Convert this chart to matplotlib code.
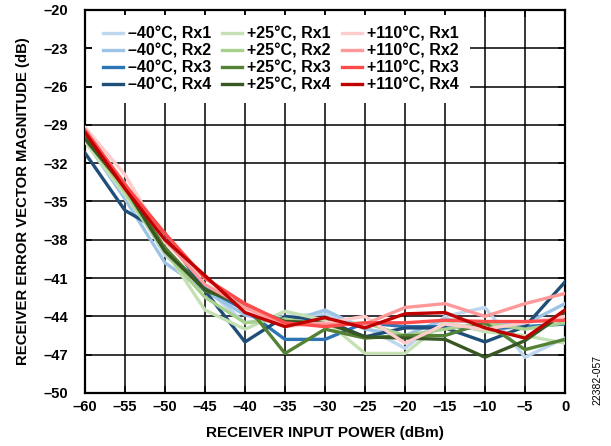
import matplotlib
matplotlib.use("Agg")
import matplotlib.pyplot as plt

plt.rcParams['font.family'] = ['Liberation Sans', 'DejaVu Sans']
plt.rcParams['font.weight'] = 'bold'

power = [-60, -55, -50, -45, -40, -35, -30, -25, -20, -15, -10, -5, 0]

labels = ["\u201340\u00b0C, Rx1", "\u201340\u00b0C, Rx2", "\u201340\u00b0C, Rx3", "\u201340\u00b0C, Rx4",
          "+25\u00b0C, Rx1", "+25\u00b0C, Rx2", "+25\u00b0C, Rx3", "+25\u00b0C, Rx4",
          "+110\u00b0C, Rx1", "+110\u00b0C, Rx2", "+110\u00b0C, Rx3", "+110\u00b0C, Rx4"]

m40_rx1 = [-29.9, -34.0, -39.2, -41.8, -44.5, -44.0, -43.8, -44.8, -46.5, -44.0, -43.3, -47.2, -45.7]
m40_rx2 = [-30.2, -34.8, -39.8, -42.0, -43.9, -44.5, -43.5, -45.0, -45.5, -44.2, -44.6, -44.6, -43.0]
m40_rx3 = [-30.0, -34.3, -38.8, -41.8, -43.5, -45.8, -45.8, -44.5, -44.8, -44.8, -45.0, -44.8, -44.6]
m40_rx4 = [-31.2, -35.7, -37.5, -42.0, -46.0, -44.0, -44.3, -45.6, -44.9, -44.9, -46.0, -44.8, -41.3]

p25_rx1 = [-30.3, -34.5, -38.8, -43.5, -45.0, -43.6, -44.3, -46.9, -46.9, -44.4, -45.2, -45.5, -46.1]
p25_rx2 = [-30.0, -34.2, -39.0, -42.5, -44.5, -44.2, -44.7, -44.5, -45.5, -45.0, -44.5, -45.0, -44.5]
p25_rx3 = [-29.9, -33.8, -38.6, -42.0, -43.0, -46.9, -45.0, -45.7, -45.5, -45.5, -44.5, -46.6, -45.8]
p25_rx4 = [-30.1, -33.9, -38.9, -41.9, -43.2, -44.4, -44.5, -45.6, -45.7, -45.8, -47.2, -45.9, -43.7]

p110_rx1 = [-29.2, -32.9, -38.2, -41.0, -43.5, -44.8, -44.5, -44.0, -46.1, -44.6, -45.0, -44.5, -44.0]
p110_rx2 = [-29.5, -33.6, -38.0, -41.5, -43.3, -44.6, -44.6, -44.6, -43.3, -43.0, -44.0, -43.0, -42.2]
p110_rx3 = [-29.4, -33.7, -37.5, -41.0, -43.0, -44.5, -44.8, -44.5, -44.5, -44.3, -44.4, -44.4, -44.3]
p110_rx4 = [-29.6, -34.0, -38.0, -40.8, -43.7, -44.8, -44.1, -44.9, -43.8, -43.7, -44.9, -45.7, -43.5]

series = [m40_rx1, m40_rx2, m40_rx3, m40_rx4,
          p25_rx1, p25_rx2, p25_rx3, p25_rx4,
          p110_rx1, p110_rx2, p110_rx3, p110_rx4]

colors = ["#bdd7ee", "#9dc3e6", "#2e75b6", "#1f4e79",
          "#c5e0b4", "#a9d18e", "#548235", "#385723",
          "#ffcccc", "#ff9999", "#ff4b4b", "#c00000"]

x_ticks = [-60, -55, -50, -45, -40, -35, -30, -25, -20, -15, -10, -5, 0]
y_ticks = [-20, -23, -26, -29, -32, -35, -38, -41, -44, -47, -50]

fig = plt.figure(figsize=(6.11, 4.46), dpi=100)
ax = fig.add_axes([85/611, 53/446, 480/611, 383/446])

for vals, c, lab in zip(series, colors, labels):
    ax.plot(power, vals, color=c, lw=2.4, label=lab, zorder=3)

ax.set_xlim(-60, 0)
ax.set_ylim(-50, -20)
ax.set_xticks(x_ticks)
ax.set_yticks(y_ticks)
ax.set_xticklabels([str(t).replace('-', '\u2013') for t in x_ticks])
ax.set_yticklabels([str(t).replace('-', '\u2013') for t in y_ticks])
ax.grid(True, color='black', lw=1.1, zorder=1)
ax.set_axisbelow(True)
ax.tick_params(direction='in', length=5, width=1.1, labelsize=10.5, top=True, right=True)
ax.tick_params(axis='x', pad=5)
ax.tick_params(axis='y', pad=12)
for lbl in ax.get_xticklabels() + ax.get_yticklabels():
    lbl.set_fontweight('bold')
for s in ax.spines.values():
    s.set_linewidth(1.6)

ax.set_xlabel("RECEIVER INPUT POWER (dBm)", fontsize=11, fontweight='bold')
ax.set_ylabel("RECEIVER ERROR VECTOR MAGNITUDE (dB)", fontsize=10.7, fontweight='bold')
ax.xaxis.label.set_va('center')
ax.xaxis.set_label_coords(0.5, (393 - 433) / 383)
ax.yaxis.label.set_va('center')
ax.yaxis.set_label_coords((23 - 85) / 480, 0.5)

leg = ax.legend(ncol=3, loc='upper left', bbox_to_anchor=(7/480, 1 - 5/383), borderaxespad=0,
                frameon=True, fancybox=False, edgecolor='none', facecolor='white', framealpha=1,
                handlelength=1.25, handletextpad=0.3, columnspacing=0.7,
                labelspacing=0.12, borderpad=0.7, prop={'weight': 'bold', 'size': 11.5})
leg.set_zorder(2)

fig.text(597/611, (446-380)/446, "22382-057", rotation=90, fontsize=7.5, ha='center', va='center',
         fontweight='normal')

fig.savefig("out.png", dpi=100)
